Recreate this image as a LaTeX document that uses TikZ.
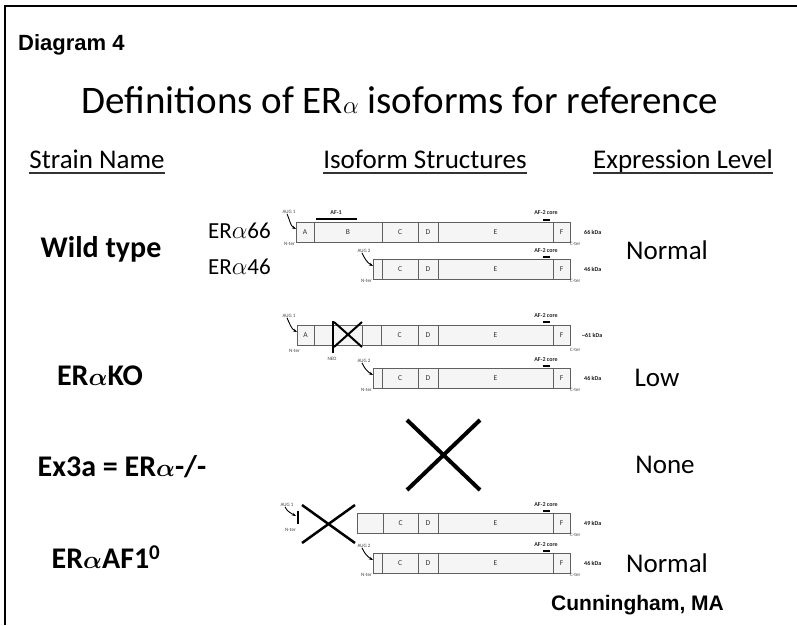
\documentclass[tikz,border=0pt]{standalone}
\usepackage{fontspec}
\usepackage{bm}
\setmainfont{Carlito}
\newfontfamily\arialfont{Liberation Sans}
\usetikzlibrary{arrows.meta}
\newcommand\alp{$\alpha$}
\newcommand\alpb{$\bm{\alpha}$}
\newcommand\isorow[3]{%
  \foreach \xa/\xb/\tx [count=\i] in {#3} {%
    \pgfmathsetmacro\w{\xb-\xa}%
    \node[seg, minimum width=\w pt, anchor=north west] (#1-\i) at (\xa,#2) {\tx};
  }%
}
\begin{document}
\begin{tikzpicture}[x=1pt,y=-1pt,
  seg/.style={draw=gray!75!black, fill=gray!8, line width=0.9pt, inner sep=0pt, outer sep=0pt,
    minimum height=20pt, font=\fontsize{7.5}{8}\selectfont, text=gray!40!black},
  tiny/.style={font=\fontsize{5}{6}\selectfont, text=gray!50!black, inner sep=0pt},
  core/.style={font=\fontsize{6}{7}\selectfont\bfseries, text=gray!30!black, inner sep=0pt},
  kda/.style={font=\fontsize{6}{7}\selectfont\bfseries, text=gray!20!black, inner sep=0pt, anchor=west},
  augarr/.style={-{Stealth[length=4pt,width=3pt]}, line width=0.9pt, black},
  hdr/.style={font=\fontsize{27}{30}\selectfont, inner sep=0pt, anchor=base},
  uline/.style={line width=1.3pt, black!80},
  rowlbl/.style={font=\fontsize{30}{33}\selectfont\bfseries, inner sep=0pt},
  expr/.style={font=\fontsize{27}{30}\selectfont, inner sep=0pt},
  iso/.style={font=\fontsize{23}{26}\selectfont, inner sep=0pt, anchor=east},
  xline/.style={line width=2pt, black},
  corebar/.style={fill=black}
]
\useasboundingbox (0,0) rectangle (797,625);
\fill[white] (0,0) rectangle (797,625);
% frame
\draw[line width=2.5pt] (5,625) -- (5,6) -- (797,6);

% headings
\node[font=\arialfont\bfseries\fontsize{22}{25}\selectfont, anchor=west, inner sep=0pt] (diag) at (18,45) {Diagram 4};
\node[font=\fontsize{39}{42}\selectfont, inner sep=0pt, text=black] (title) at (400,100) {Definitions of ER\alp\ isoforms for reference};
\node[hdr] (h1) at (97,168) {Strain Name};
\node[hdr] (h2) at (425,168) {Isoform Structures};
\node[hdr] (h3) at (683,168) {Expression Level};
\foreach \h in {h1,h2,h3} \draw[uline] ([yshift=-5pt]\h.base west) -- ([yshift=-5pt]\h.base east);

% row labels
\node[rowlbl] (r1) at (101,249) {Wild type};
\node[rowlbl] (r2) at (100,376) {ER\alpb KO};
\node[rowlbl] (r3) at (122,467) {Ex3a = ER\alpb-/-};
\node[rowlbl] (r4) at (106,557) {ER\alpb AF1\textsuperscript{0}};

\node[expr] (e1) at (667,250) {Normal};
\node[expr] (e2) at (657,378) {Low};
\node[expr] (e3) at (665,465) {None};
\node[expr] (e4) at (667,563) {Normal};

\node[iso] (i66) at (271,231) {ER\alp 66};
\node[iso] (i46) at (271,267) {ER\alp 46};

% ---------- Wild type ----------
\isorow{wa}{222}{296/314/A, 314/382/B, 382/418/C, 418/438/D, 438/553/E, 553/570/F}
\isorow{wb}{259}{373/382/{}, 382/418/C, 418/438/D, 438/553/E, 553/570/F}
\node[tiny] (wa-aug) at (289,212) {AUG 1};
\node[tiny, anchor=north east] (wa-n) at (295,242) {N-ter};
\draw[augarr] ([xshift=-2pt]wa-aug.south) to[out=-65,in=150] ([yshift=3pt]wa-1.west);
\node[tiny, anchor=north west] (wa-c) at (wa-6.south east) {C-ter};
\node[kda] (wa-k) at ([xshift=14pt]wa-6.east) {66 kDa};
\node[core] (wa-af1) at (336,213) {AF-1};
\draw[line width=1.8pt] (316,219) -- (357,219);
\node[core] (wa-af2) at (546,213) {AF-2 core};
\fill[corebar] (543,218.5) rectangle (550,221);
\node[tiny] (wb-aug) at (364,251) {AUG 2};
\node[tiny, anchor=north east] (wb-n) at (372,279) {N-ter};
\draw[augarr] ([xshift=-2pt]wb-aug.south) to[out=-65,in=150] ([yshift=3pt]wb-1.west);
\node[tiny, anchor=north west] (wb-c) at (wb-5.south east) {C-ter};
\node[kda] (wb-k) at ([xshift=14pt]wb-5.east) {46 kDa};
\node[core] (wb-af2) at (546,251) {AF-2 core};
\fill[corebar] (543,255.5) rectangle (550,258);

% ---------- ERaKO ----------
\isorow{ka}{325}{297/314/A, 314/333/{}, 333/362/{}, 362/381/{}, 381/418/C, 418/438/D, 438/553/E, 553/570/F}
\isorow{kb}{368}{373/382/{}, 382/418/C, 418/438/D, 438/553/E, 553/570/F}
\draw[xline] (334,322) -- (362,347) (334,347) -- (362,322);
\draw[line width=2pt] (333,321) -- (333,353);
\node[tiny] (neo) at (332,359) {NEO};
\node[tiny] (ka-aug) at (289,316) {AUG 1};
\node[tiny, anchor=north east] (ka-n) at (300,349) {N-ter};
\draw[augarr] ([xshift=-2pt]ka-aug.south) to[out=-65,in=150] ([yshift=3pt]ka-1.west);
\node[tiny, anchor=north west] (ka-c) at ([yshift=-3pt]ka-8.south east) {C-ter};
\node[kda] (ka-k) at ([xshift=12pt]ka-8.east) {\textasciitilde 61 kDa};
\node[core] (ka-af2) at (546,316) {AF-2 core};
\fill[corebar] (543,320.5) rectangle (550,323);
\node[tiny] (kb-aug) at (364,361) {AUG 2};
\node[tiny, anchor=north east] (kb-n) at (372,388) {N-ter};
\draw[augarr] ([xshift=-2pt]kb-aug.south) to[out=-65,in=150] ([yshift=3pt]kb-1.west);
\node[tiny, anchor=north west] (kb-c) at (kb-5.south east) {C-ter};
\node[kda] (kb-k) at ([xshift=14pt]kb-5.east) {46 kDa};
\node[core] (kb-af2) at (546,360) {AF-2 core};
\fill[corebar] (543,364.5) rectangle (550,367);

% ---------- Ex3a ----------
\draw[line width=4pt] (407,420) -- (480,490) (407,490) -- (480,420);

% ---------- ERaAF1^0 ----------
\isorow{aa}{513}{357/383/{}, 383/418/C, 418/438/D, 438/553/E, 553/570/F}
\isorow{ab}{553}{373/382/{}, 382/418/C, 418/438/D, 438/553/E, 553/570/F}
\coordinate (stubtop) at (298,511);
\coordinate (stubbot) at (298,524);
\draw[line width=1.5pt] (stubtop) -- (stubbot);
\coordinate (stubmid) at (296,516);
\node[tiny] (aa-aug) at (287,505) {AUG 1};
\node[tiny, anchor=north east] (aa-n) at (296,528) {N-ter};
\draw[augarr] ([xshift=-2pt]aa-aug.south) to[out=-65,in=150] (stubmid);
\draw[line width=2.5pt] (302,505) -- (355,543) (302,543) -- (355,505);
\node[tiny, anchor=north west] (aa-c) at (aa-5.south east) {C-ter};
\node[kda] (aa-k) at ([xshift=14pt]aa-5.east) {49 kDa};
\node[core] (aa-af2) at (546,505) {AF-2 core};
\fill[corebar] (543,509.5) rectangle (550,512);
\node[tiny] (ab-aug) at (364,546) {AUG 2};
\node[tiny, anchor=north east] (ab-n) at (372,573) {N-ter};
\draw[augarr] ([xshift=-2pt]ab-aug.south) to[out=-65,in=150] ([yshift=3pt]ab-1.west);
\node[tiny, anchor=north west] (ab-c) at (ab-5.south east) {C-ter};
\node[kda] (ab-k) at ([xshift=14pt]ab-5.east) {46 kDa};
\node[core] (ab-af2) at (546,545) {AF-2 core};
\fill[corebar] (543,549.5) rectangle (550,552);

\node[font=\arialfont\bfseries\fontsize{21}{24}\selectfont, anchor=west, inner sep=0pt] (auth) at (551,605) {Cunningham, MA};
\end{tikzpicture}
\end{document}
